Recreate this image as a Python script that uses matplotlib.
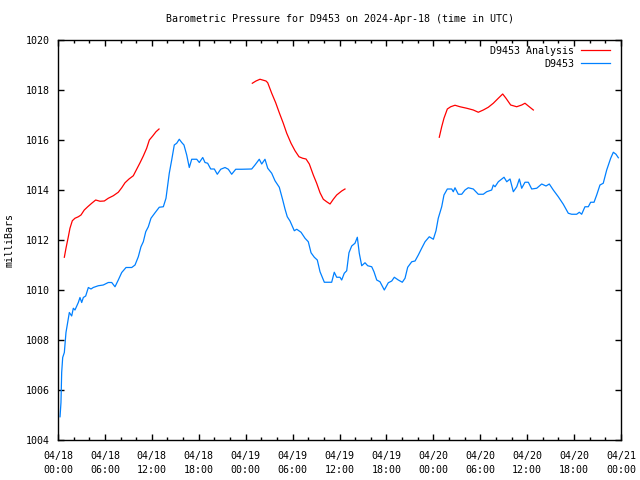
import numpy as np
import pandas as pd
import matplotlib
matplotlib.use("Agg")
import matplotlib.pyplot as plt
import matplotlib.dates as mdates

plt.rcParams['font.family'] = ['DejaVu Sans Mono']

start = pd.Timestamp("2024-04-18 00:00")

# D9453 observations: hours since 04/18 00:00 UTC, pressure in mb
obs_hours = [0.26, 0.38, 0.47, 0.6, 0.81, 1.02, 1.24, 1.45, 1.75, 1.96, 2.17, 2.6, 2.81, 3.03,
             3.24, 3.54, 3.88, 4.22, 4.51, 5.15, 5.79, 6.43, 6.87, 7.29, 7.71, 8.15, 8.7, 9.43,
             9.85, 10.27, 10.61, 10.91, 11.22, 11.55, 11.89, 12.41, 12.95, 13.47, 13.81, 14.03,
             14.23, 14.54, 14.87, 15.18, 15.51, 15.82, 16.11, 16.46, 16.79, 17.1, 17.74, 18.07,
             18.51, 18.8, 19.14, 19.53, 19.99, 20.37, 20.81, 21.36, 21.78, 22.21, 22.73, 23.49,
             24.77, 25.19, 25.74, 26.05, 26.47, 26.82, 27.33, 27.75, 28.3, 28.74, 29.03, 29.32,
             29.67, 30.22, 30.53, 31.08, 31.59, 32.01, 32.36, 32.78, 33.16, 33.51, 34.06, 35.0,
             35.33, 35.64, 36.06, 36.28, 36.61, 36.92, 37.21, 37.56, 37.98, 38.28, 38.53, 38.84,
             39.26, 39.61, 40.12, 40.41, 40.76, 41.18, 41.73, 42.24, 42.68, 43.01, 43.52, 44.03,
             44.38, 44.72, 45.24, 45.66, 46.08, 46.51, 46.94, 47.48, 48.0, 48.34, 48.63, 49.07,
             49.36, 49.79, 50.35, 50.55, 50.77, 51.19, 51.63, 52.05, 52.47, 53.11, 53.75, 54.39,
             54.82, 55.46, 55.67, 55.89, 56.31, 57.04, 57.39, 57.81, 58.23, 58.67, 59.0, 59.3,
             59.72, 60.15, 60.58, 61.22, 61.86, 62.41, 62.83, 63.34, 63.98, 64.62, 65.26, 65.69,
             66.33, 66.67, 66.97, 67.39, 67.82, 68.12, 68.55, 68.89, 69.31, 69.73, 70.17, 70.68,
             71.02, 71.36, 71.66]
obs_mb = [1004.93, 1005.5, 1006.7, 1007.3, 1007.5, 1008.3, 1008.7, 1009.1, 1008.96, 1009.27,
          1009.2, 1009.5, 1009.7, 1009.5, 1009.7, 1009.76, 1010.1, 1010.04, 1010.1, 1010.17,
          1010.2, 1010.3, 1010.3, 1010.13, 1010.4, 1010.7, 1010.9, 1010.9, 1011.0, 1011.33,
          1011.73, 1011.93, 1012.33, 1012.53, 1012.87, 1013.09, 1013.31, 1013.33, 1013.67,
          1014.2, 1014.67, 1015.2, 1015.8, 1015.87, 1016.03, 1015.9, 1015.8, 1015.4, 1014.9,
          1015.23, 1015.23, 1015.1, 1015.3, 1015.1, 1015.07, 1014.84, 1014.84, 1014.63, 1014.83,
          1014.9, 1014.83, 1014.63, 1014.83, 1014.83, 1014.84, 1015.0, 1015.23, 1015.04, 1015.23,
          1014.87, 1014.67, 1014.37, 1014.11, 1013.6, 1013.24, 1012.93, 1012.76, 1012.37,
          1012.43, 1012.31, 1012.07, 1011.93, 1011.49, 1011.31, 1011.2, 1010.73, 1010.31,
          1010.31, 1010.71, 1010.51, 1010.51, 1010.4, 1010.67, 1010.77, 1011.49, 1011.76,
          1011.87, 1012.11, 1011.47, 1010.97, 1011.09, 1010.97, 1010.93, 1010.73, 1010.4,
          1010.33, 1010.0, 1010.29, 1010.36, 1010.51, 1010.4, 1010.31, 1010.47, 1010.91,
          1011.13, 1011.16, 1011.4, 1011.67, 1011.93, 1012.13, 1012.03, 1012.37, 1012.87,
          1013.33, 1013.8, 1014.04, 1014.04, 1013.93, 1014.09, 1013.83, 1013.83, 1014.0,
          1014.09, 1014.04, 1013.83, 1013.83, 1013.93, 1014.0, 1014.2, 1014.13, 1014.33,
          1014.51, 1014.33, 1014.44, 1013.93, 1014.13, 1014.44, 1014.07, 1014.31, 1014.31,
          1014.04, 1014.07, 1014.24, 1014.16, 1014.24, 1014.0, 1013.73, 1013.43, 1013.07,
          1013.03, 1013.03, 1013.11, 1013.03, 1013.33, 1013.33, 1013.51, 1013.51, 1013.8,
          1014.2, 1014.27, 1014.8, 1015.27, 1015.51, 1015.43, 1015.29]

# analysis series, nan marks the gaps between runs
ana_hours = [0.81, 1.02, 1.32, 1.53, 1.83, 2.17, 2.6, 2.94, 3.36, 3.8, 4.31, 4.82, 5.37, 5.92,
             6.43, 7.07, 7.71, 8.15, 8.57, 9.08, 9.63, 10.06, 10.49, 10.91, 11.34, 11.68, 12.11,
             12.53, 12.92, 18.0,
             24.85, 25.32, 25.83, 26.6, 26.82, 27.33, 27.84, 28.3, 28.81, 29.25, 29.8, 30.31,
             30.82, 31.29, 31.72, 32.14, 32.65, 33.08, 33.51, 33.93, 34.36, 34.79, 35.21, 35.64,
             36.28, 36.7, 42.0,
             48.76, 49.07, 49.36, 49.79, 50.22, 50.77, 51.41, 52.27, 53.11, 53.75, 54.39, 55.03,
             55.67, 56.31, 56.87, 57.29, 57.89, 58.66, 59.3, 59.72, 60.15, 60.79]
ana_mb = [1011.31, 1011.67, 1012.13, 1012.47, 1012.77, 1012.87, 1012.93, 1013.0, 1013.2,
          1013.33, 1013.47, 1013.6, 1013.55, 1013.56, 1013.67, 1013.77, 1013.91, 1014.09,
          1014.29, 1014.44, 1014.57, 1014.83, 1015.09, 1015.36, 1015.67, 1016.0, 1016.16,
          1016.33, 1016.44, np.nan,
          1018.27, 1018.36, 1018.43, 1018.36, 1018.29, 1017.87, 1017.49, 1017.09, 1016.67,
          1016.27, 1015.87, 1015.57, 1015.33, 1015.27, 1015.24, 1015.04, 1014.6, 1014.27,
          1013.89, 1013.63, 1013.53, 1013.44, 1013.63, 1013.8, 1013.96, 1014.04, np.nan,
          1016.11, 1016.53, 1016.87, 1017.24, 1017.33, 1017.39, 1017.33, 1017.27, 1017.2,
          1017.11, 1017.2, 1017.31, 1017.47, 1017.67, 1017.84, 1017.67, 1017.4, 1017.33,
          1017.4, 1017.47, 1017.36, 1017.2]

obs_t = start + pd.to_timedelta(obs_hours, unit="h")
ana_t = start + pd.to_timedelta(ana_hours, unit="h")

fig = plt.figure(figsize=(6.4, 4.8), dpi=100)
ax = fig.add_axes([58 / 640, 40 / 480, 563 / 640, 400 / 480])

ax.plot(ana_t, ana_mb, color="#ff0000", linewidth=0.9, label="D9453 Analysis")
ax.plot(obs_t, obs_mb, color="#0080ff", linewidth=0.9, label="D9453")

ax.set_xlim(start, start + pd.Timedelta(hours=72))
ax.set_ylim(1004, 1020)
ax.set_yticks(np.arange(1004, 1021, 2))
ax.xaxis.set_major_locator(mdates.HourLocator(byhour=[0, 6, 12, 18]))
ax.xaxis.set_minor_locator(mdates.HourLocator(interval=2))
ax.xaxis.set_major_formatter(mdates.DateFormatter("%m/%d\n%H:%M"))

ax.tick_params(which="both", direction="in", top=True, right=True, labelsize=7.2, width=1)
ax.tick_params(which="major", length=4)
ax.tick_params(axis="x", which="major", pad=8)
ax.tick_params(axis="y", which="major", pad=6)
ax.tick_params(which="minor", length=2.5)
for lbl in ax.get_xticklabels():
    lbl.set_linespacing(1.5)
for s in ax.spines.values():
    s.set_linewidth(1.0)

ax.set_title("Barometric Pressure for D9453 on 2024-Apr-18 (time in UTC)", fontsize=7.2, pad=13)
ax.set_ylabel("milliBars", fontsize=7.2, labelpad=8)

ax.legend(loc="upper right", markerfirst=False, frameon=False, fontsize=7.2,
          handlelength=2.9, handletextpad=0.7, labelspacing=0.3,
          borderaxespad=0.2, bbox_to_anchor=(0.991, 1.0))

fig.savefig("out.png", dpi=100)
